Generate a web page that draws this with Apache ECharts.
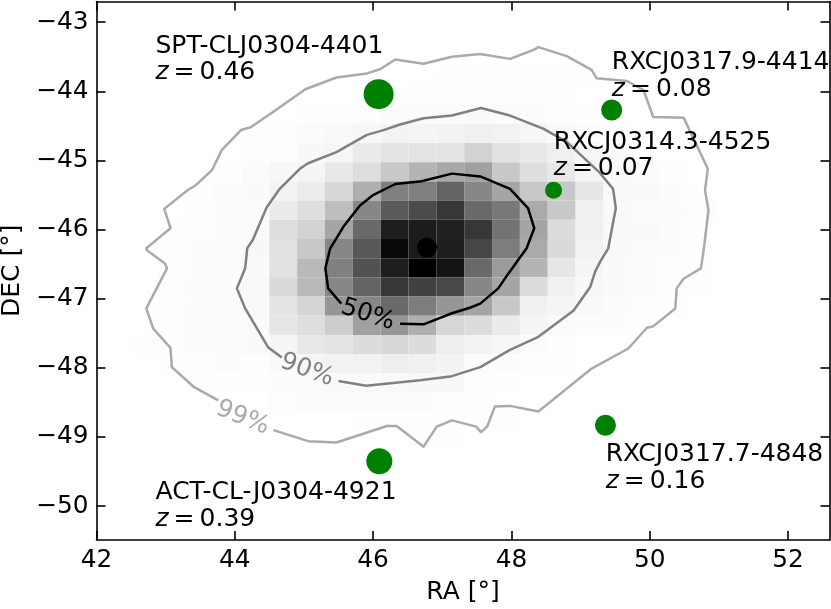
<!DOCTYPE html>
<html><head><meta charset="utf-8">
<style>html,body{margin:0;padding:0;background:#fff}#c{width:831px;height:609px}</style>
<script src="https://cdn.jsdelivr.net/npm/echarts@6/dist/echarts.min.js"></script>
</head><body><div id="c"></div>
<script>
const xTicks = [42,44,46,48,50,52];
const yTicks = [-50,-49,-48,-47,-46,-45,-44,-43];
const binRa0 = 42.485, binRaStep = 0.4027, binDec0 = -43.636, binDecStep = 0.2777;
// darkness of each sky bin, 0 white .. 255 black; rows top to bottom, columns left to right
const density = [
[0,0,0,0,0,0,0,0,0,0,0,1,1,1,1,1,1,0,0,0,0,0],
[0,0,0,0,0,0,0,0,0,1,2,2,2,2,2,1,0,0,0,0,0,0],
[0,0,0,0,0,0,1,1,2,4,4,5,5,4,3,2,1,0,0,0,0,0],
[0,0,0,0,1,2,4,6,8,12,10,12,15,13,9,6,3,1,0,0,0,0],
[0,0,0,0,2,2,7,9,20,27,27,27,45,30,23,15,9,5,1,0,0,0],
[0,0,0,1,4,8,10,23,34,55,75,87,95,55,33,23,9,5,3,1,0,0],
[0,0,1,3,5,12,19,40,80,127,127,155,120,90,55,55,25,6,5,3,1,0],
[0,0,2,3,4,20,33,65,120,165,180,200,150,135,85,55,15,6,4,3,2,0],
[0,1,2,3,5,33,45,90,150,225,227,222,200,140,90,35,15,6,5,3,1,0],
[0,1,3,4,7,30,55,120,167,247,227,225,185,130,85,37,13,6,4,3,1,0],
[0,1,3,4,5,30,70,127,173,225,255,235,150,100,75,25,10,5,3,2,1,0],
[0,2,3,4,6,37,70,120,155,200,190,183,120,90,35,15,7,5,3,2,1,0],
[0,2,3,4,6,27,43,105,120,150,130,105,90,55,15,10,6,3,2,1,0,0],
[0,2,3,4,5,25,33,50,95,105,80,40,35,20,10,5,3,3,1,0,0,0],
[2,2,3,4,5,10,23,27,35,40,35,17,12,8,3,1,0,0,0,0,0,0],
[0,1,2,3,2,5,10,13,13,17,15,12,3,3,1,1,0,0,0,0,0,0],
[0,0,1,1,2,3,4,5,5,6,7,8,2,1,0,0,0,0,0,0,0,0],
[0,0,0,0,0,2,3,3,3,3,3,2,1,0,0,0,0,0,0,0,0,0],
[0,0,0,0,0,0,0,0,1,1,1,1,1,1,0,0,0,0,0,0,0,0],
[0,0,0,0,0,0,0,0,0,0,1,1,0,0,0,0,0,0,0,0,0,0]
];
const contour50Ra = [46.39,46.73,47.14,47.40,47.55,47.81,47.96,48.22,48.33,48.24,47.98,47.55,47.14,46.70,46.32,46.00,45.81,45.57,45.38,45.31,45.35,45.54];
const contour50Dec = [-47.36,-47.37,-47.21,-47.13,-47.07,-46.85,-46.63,-46.27,-45.98,-45.69,-45.41,-45.23,-45.19,-45.30,-45.34,-45.50,-45.65,-45.96,-46.27,-46.56,-46.85,-47.07];
const contour90Ra = [44.68,44.48,44.15,44.03,44.15,44.18,44.26,44.46,44.65,44.94,45.06,45.47,45.91,46.15,46.39,46.73,47.14,47.56,47.98,48.46,48.80,49.28,49.47,49.51,49.40,49.28,49.21,49.14,48.90,48.39,47.98,47.55,47.14,46.68,45.90,45.50];
const contour90Dec = [-47.85,-47.70,-47.14,-46.85,-46.56,-46.27,-46.15,-45.68,-45.41,-45.12,-45.04,-44.88,-44.63,-44.56,-44.48,-44.39,-44.35,-44.24,-44.35,-44.54,-44.73,-45.18,-45.41,-45.69,-46.27,-46.47,-46.61,-46.83,-47.17,-47.55,-47.74,-47.99,-48.12,-48.18,-48.26,-48.19];
const contour99Ra = [43.76,43.40,43.09,43.07,42.82,42.72,43.02,42.99,42.73,42.72,43.07,42.98,43.33,43.42,43.67,43.81,44.09,44.23,44.61,45.02,45.47,45.91,46.10,46.32,46.73,47.14,47.55,47.98,48.32,48.39,48.80,49.16,49.23,49.67,49.91,50.05,50.49,50.84,50.80,50.85,50.78,50.74,50.49,50.39,50.37,50.05,49.96,49.69,49.16,48.39,47.98,47.76,47.65,47.56,47.49,47.14,46.92,46.73,46.34,46.20,45.47,45.06,44.56];
const contour99Dec = [-48.47,-48.27,-47.99,-47.71,-47.43,-47.14,-46.56,-46.49,-46.30,-46.27,-45.98,-45.70,-45.42,-45.37,-45.14,-44.85,-44.56,-44.52,-44.26,-43.97,-43.80,-43.74,-43.68,-43.54,-43.60,-43.50,-43.46,-43.53,-43.40,-43.36,-43.49,-43.69,-43.81,-43.85,-43.98,-44.37,-44.38,-45.12,-45.43,-45.72,-46.30,-46.56,-46.71,-46.85,-47.14,-47.40,-47.42,-47.72,-48.01,-48.63,-48.55,-48.56,-48.85,-48.93,-48.85,-48.76,-48.85,-49.14,-48.84,-48.84,-49.08,-49.06,-48.90];
const clusterNames = ['SPT-CLJ0304-4401','RXCJ0317.9-4414','RXCJ0314.3-4525','RXCJ0317.7-4848','ACT-CL-J0304-4921'];
const clusterZ = ['0.46','0.08','0.07','0.16','0.39'];
const clusterRa = [46.08,49.45,48.61,49.36,46.09];
const clusterDec = [-44.04,-44.27,-45.43,-48.83,-49.35];
const clusterSize = [30,21,17,21,26];
const labelRa = [42.86,49.46,48.62,49.37,42.86];
const labelDec = [-43.93,-44.165,-45.32,-49.84,-50.39];
const centerPoint = [46.78,-46.26];
const contourLabels = [['50%',45.93,-47.24,-18,'#000'],['90%',45.05,-48.04,-20,'#808080'],['99%',44.12,-48.73,-22,'#aaaaaa']];

const FONT = 'DejaVu Sans', FS = 24.8, FT = 25;
const cells = [];
density.forEach((row,r)=>row.forEach((v,c)=>{ if(v>0) cells.push([binRa0+c*binRaStep, binDec0-r*binDecStep, v]); }));
const zip=(a,b)=>a.map((v,i)=>[v,b[i]]);
const line=(ra,dec,col)=>({type:'line',data:zip(ra,dec),showSymbol:false,symbol:'none',smooth:false,z:3,silent:true,lineStyle:{color:col,width:2.5,join:'round'}});
const ax=(pos,lab,ticks,extra)=>Object.assign({type:'value',position:pos,splitLine:{show:false},scale:false,
  axisLine:{show:true,onZero:false,lineStyle:{color:'#000',width:1.6}},
  axisTick:{show:true,inside:true,length:9,lineStyle:{color:'#000',width:1.6},customValues:ticks},
  axisLabel:{show:lab,color:'#000',fontFamily:FONT,fontSize:FS,margin:8,hideOverlap:false,customValues:ticks,formatter:v=>String(v).replace('-','\u2212')}},extra);
const xr={min:42,max:52.6}, yr={min:-50.49,max:-42.70};
const nm=(n,gap)=>({name:n,nameLocation:'middle',nameGap:gap,nameTextStyle:{color:'#000',fontFamily:FONT,fontSize:FT}});
const rs=(extra)=>Object.assign({fontFamily:FONT,fontSize:FT,color:'#000',lineHeight:26.5},extra);
const chart=echarts.init(document.getElementById('c'),null,{renderer:'canvas'});
chart.setOption({
  animation:false,backgroundColor:'#fff',
  grid:{left:96.5,right:1.5,top:1.5,bottom:69,containLabel:false,outerBoundsMode:'none'},
  xAxis:[ax('bottom',true,xTicks,Object.assign({},xr,nm('RA [°]',40))),ax('top',false,xTicks,xr)],
  yAxis:[ax('left',true,yTicks,Object.assign({},yr,nm('DEC [°]',71))),ax('right',false,yTicks,yr)],
  series:[
    {type:'custom',data:cells,z:1,silent:true,clip:true,encode:{x:0,y:1},
     renderItem:(p,api)=>{
       const a=api.coord([api.value(0),api.value(1)]);
       const b=api.coord([api.value(0)+binRaStep,api.value(1)-binDecStep]);
       const g=255-api.value(2);
       return {type:'rect',shape:{x:a[0],y:a[1],width:b[0]-a[0],height:b[1]-a[1]},style:{fill:`rgb(${g},${g},${g})`}};
     }},
    line(contour99Ra,contour99Dec,'#aaaaaa'),
    line(contour90Ra,contour90Dec,'#808080'),
    line(contour50Ra,contour50Dec,'#000000'),
    {type:'scatter',z:5,silent:true,data:clusterRa.map((x,i)=>({value:[x,clusterDec[i]],symbolSize:clusterSize[i]})),itemStyle:{color:'#008000',opacity:1}},
    {type:'scatter',z:5,silent:true,symbolSize:20,data:[centerPoint],itemStyle:{color:'#000',opacity:1}},
    {type:'scatter',z:6,silent:true,symbolSize:1,itemStyle:{color:'rgba(0,0,0,0)'},
     data:clusterNames.map((n,i)=>({value:[labelRa[i],labelDec[i]],label:{show:true,position:[0,0],align:'left',verticalAlign:'bottom',
       formatter:`{n|${n}}\n{i|z}{n|\u2009=\u2009${clusterZ[i]}}`,color:'#000',opacity:1,fontFamily:FONT,fontSize:FT,lineHeight:26.5,
       rich:{n:rs({}),i:rs({fontStyle:'italic'})}}}))},
    {type:'scatter',z:6,silent:true,symbolSize:1,itemStyle:{color:'rgba(0,0,0,0)'},
     data:contourLabels.map(l=>({value:[l[1],l[2]],label:{show:true,position:[0,0],align:'center',verticalAlign:'middle',rotate:l[3],formatter:l[0],color:l[4],opacity:1,fontFamily:FONT,fontSize:24.7}}))}
  ]
});
</script></body></html>
